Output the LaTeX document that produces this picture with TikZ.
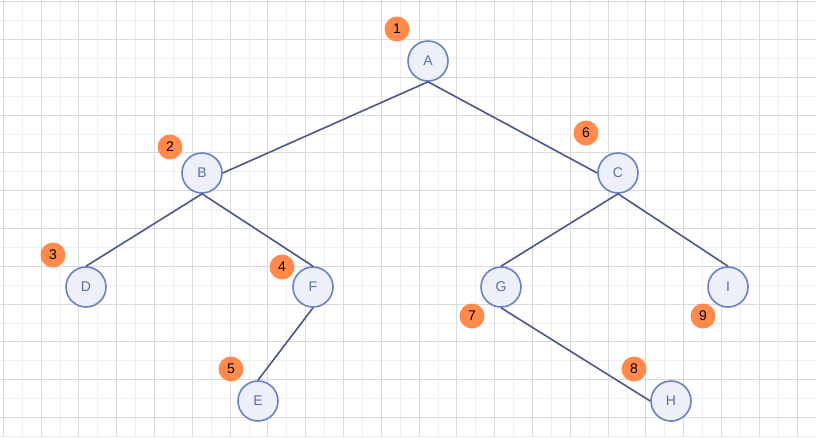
\documentclass[tikz,border=0pt]{standalone}
\usepackage{fontspec}
\setmainfont{Liberation Sans}
\usetikzlibrary{positioning}
\definecolor{nodefill}{HTML}{EDEFF9}
\definecolor{nodeline}{HTML}{6A82C2}
\definecolor{nodetext}{HTML}{5A6FA8}
\definecolor{edgeline}{HTML}{4A5888}
\definecolor{badge}{HTML}{FF8A4C}
\definecolor{gridminor}{HTML}{EEEEEE}
\definecolor{gridmajor}{HTML}{DADADA}

\begin{document}
\begin{tikzpicture}[x=1pt,y=-1pt,
  vertex/.style={circle,draw=nodeline,fill=nodefill,line width=1.6pt,minimum size=40pt,inner sep=0pt,text=nodetext,font=\fontsize{14}{14}\selectfont},
  order/.style={circle,fill=badge,minimum size=25pt,inner sep=0pt,font=\fontsize{14}{14}\selectfont},
  link/.style={draw=edgeline,line width=1.6pt}]
\useasboundingbox (0,0) rectangle (816,437);
\fill[white] (0,0) rectangle (816,437);
% grid
\foreach \i in {0,...,43} \draw[gridminor,line width=0.9pt] ({3.3+18.9*\i},0)--({3.3+18.9*\i},437);
\foreach \i in {0,...,23} \draw[gridminor,line width=0.9pt] (0,{1.7+18.9*\i})--(816,{1.7+18.9*\i});
\foreach \i in {0,...,21} \draw[gridmajor,line width=0.9pt] ({3.3+37.8*\i},0)--({3.3+37.8*\i},437);
\foreach \i in {0,...,11} \draw[gridmajor,line width=0.9pt] (0,{1.7+37.8*\i})--(816,{1.7+37.8*\i});
% tree
\node[vertex] (A) at (428,61) {A};
\node[vertex] (B) at (202,173) {B};
\node[vertex] (C) at (618,173) {C};
\node[vertex] (D) at (86,287) {D};
\node[vertex] (F) at (313,287) {F};
\node[vertex] (G) at (501,287) {G};
\node[vertex] (I) at (728,287) {I};
\node[vertex] (E) at (258,401) {E};
\node[vertex] (H) at (671,401) {H};
\draw[link] (A.south)--(B.east);
\draw[link] (A.south)--(C.west);
\draw[link] (B.south)--(D.north);
\draw[link] (B.south)--(F.north);
\draw[link] (F.south)--(E.north);
\draw[link] (C.south)--(G.north);
\draw[link] (C.south)--(I.north);
\draw[link] (G.south)--(H.west);
% visiting order
\node[order] (n1) at (397,29) {1};
\node[order] (n2) at (170,147) {2};
\node[order] (n3) at (53,255) {3};
\node[order] (n4) at (282,267) {4};
\node[order] (n5) at (231,369) {5};
\node[order] (n6) at (586,133) {6};
\node[order] (n7) at (472,316) {7};
\node[order] (n8) at (634,369) {8};
\node[order] (n9) at (703,316) {9};
\end{tikzpicture}
\end{document}
